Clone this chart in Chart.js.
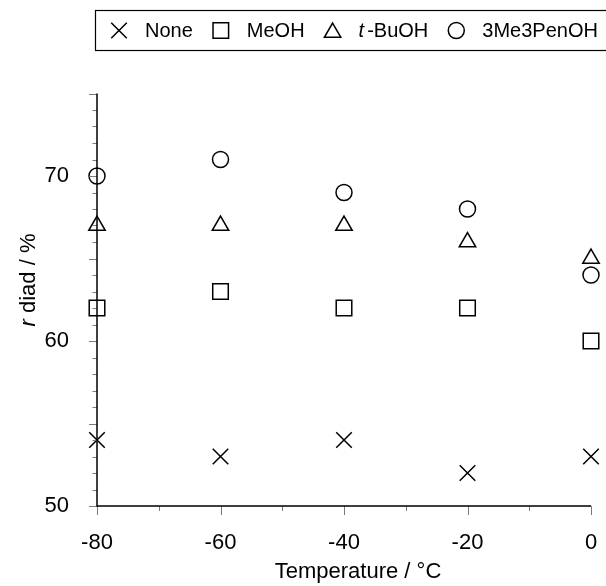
<!DOCTYPE html>
<html>
<head>
<meta charset="utf-8">
<script src="https://cdn.jsdelivr.net/npm/chart.js@4.4.1/dist/chart.umd.min.js"></script>
<style>
  html, body { margin: 0; padding: 0; background: #fff; }
  #wrap { width: 606px; height: 586px; }
</style>
</head>
<body>
<div id="wrap"><canvas id="chart" width="606" height="586"></canvas></div>
<script>
/*************************************************
 * Data
 *************************************************/
const temps = [-80, -60, -40, -20, 0];
const noneVals = [54, 53, 54, 52, 53];
const meohVals = [62, 63, 62, 62, 60];
const tbuohVals = [67, 67, 67, 66, 65];
const penVals = [70, 71, 69, 68, 64];

const seriesLabels = ["None", "MeOH", "t-BuOH", "3Me3PenOH"];
const seriesStyles = ["crossRot", "rect", "triangle", "circle"];
const seriesRadius = [11, 11, 9.5, 8];

const xMin = -80, xMax = 0, xStep = 20;
const yMin = 50, yMax = 75, yStep = 10;

const FONT = '"Liberation Sans", Arial, Helvetica, sans-serif';

function toPoints(vals) {
  return temps.map((t, i) => ({ x: t, y: vals[i] }));
}

const allVals = [noneVals, meohVals, tbuohVals, penVals];
const datasets = allVals.map((vals, i) => ({
  label: seriesLabels[i],
  data: toPoints(vals),
  pointStyle: seriesStyles[i],
  pointRadius: seriesRadius[i],
  pointHoverRadius: seriesRadius[i],
  pointBorderColor: "#000",
  pointBackgroundColor: "rgba(0,0,0,0)",
  pointBorderWidth: 1.5,
  showLine: false,
  clip: false
}));

/*************************************************
 * Axis ticks (major / minor), drawn by hand
 *************************************************/
const axisTicks = {
  id: "axisTicks",
  afterDraw(chart) {
    const ctx = chart.ctx;
    const xs = chart.scales.x, ys = chart.scales.y;
    const { left, bottom } = chart.chartArea;
    ctx.save();
    ctx.strokeStyle = "#7a7a7a";
    ctx.lineWidth = 1;
    ctx.beginPath();
    for (let v = yMin; v <= yMax; v += 1) {
      const py = Math.round(ys.getPixelForValue(v)) + 0.5;
      const len = v % 5 === 0 ? 8 : 4.5;
      ctx.moveTo(left - len, py);
      ctx.lineTo(left, py);
    }
    for (let v = xMin; v <= xMax; v += 10) {
      const px = Math.round(xs.getPixelForValue(v)) + 0.5;
      const len = v % 20 === 0 ? 9 : 5;
      ctx.moveTo(px, bottom);
      ctx.lineTo(px, bottom + len);
    }
    ctx.stroke();

    // axis lines
    ctx.strokeStyle = "#000";
    ctx.lineWidth = 1.5;
    ctx.beginPath();
    ctx.moveTo(left, chart.chartArea.top);
    ctx.lineTo(left, bottom);
    ctx.lineTo(chart.chartArea.right, bottom);
    ctx.stroke();

    // axis titles
    ctx.fillStyle = "#000";
    ctx.textBaseline = "alphabetic";
    ctx.font = "22px " + FONT;
    ctx.textAlign = "center";
    ctx.fillText("Temperature / \u00B0C", 358, 578);

    ctx.save();
    ctx.translate(35, 280);
    ctx.rotate(-Math.PI / 2);
    ctx.font = "italic 22px " + FONT;
    const rW = ctx.measureText("r").width;
    ctx.font = "22px " + FONT;
    const restW = ctx.measureText(" diad / %").width;
    const start = -(rW + restW) / 2;
    ctx.textAlign = "left";
    ctx.font = "italic 22px " + FONT;
    ctx.fillText("r", start, 0);
    ctx.font = "22px " + FONT;
    ctx.fillText(" diad / %", start + rW, 0);
    ctx.restore();
    ctx.restore();
  }
};

/*************************************************
 * Boxed legend on top
 *************************************************/
const boxLegend = {
  id: "boxLegend",
  afterDraw(chart) {
    const ctx = chart.ctx;
    ctx.save();
    ctx.strokeStyle = "#000";
    ctx.lineWidth = 1.2;
    ctx.strokeRect(95.5, 10.5, 540, 40);

    const cy = 30.5;
    let x = 119;
    chart.data.datasets.forEach((ds, i) => {
      ctx.strokeStyle = "#000";
      ctx.fillStyle = "rgba(0,0,0,0)";
      ctx.lineWidth = 1.5;
      const my = ds.pointStyle === "triangle" ? cy + 2 : cy;
      Chart.helpers.drawPoint(ctx, {
        pointStyle: ds.pointStyle,
        radius: ds.pointRadius,
        borderWidth: 1.5,
        rotation: 0
      }, x, my);

      ctx.fillStyle = "#000";
      ctx.textBaseline = "alphabetic";
      ctx.textAlign = "left";
      let tx = x + 26;
      const label = ds.label;
      ctx.font = "20px " + FONT;
      if (label.startsWith("t-")) {
        ctx.font = "italic 20px " + FONT;
        ctx.fillText("t", tx, 37);
        tx += ctx.measureText("t").width + 3;
        ctx.font = "20px " + FONT;
        ctx.fillText(label.slice(1), tx, 37);
        tx += ctx.measureText(label.slice(1)).width;
      } else {
        ctx.fillText(label, tx, 37);
        tx += ctx.measureText(label).width;
      }
      x = tx + 28;
    });
    ctx.restore();
  }
};

/*************************************************
 * Chart
 *************************************************/
new Chart(document.getElementById("chart"), {
  type: "scatter",
  data: { datasets: datasets },
  options: {
    responsive: false,
    animation: false,
    events: [],
    layout: { padding: { top: 93.5, right: 15, left: 0, bottom: 0 } },
    plugins: {
      legend: { display: false },
      tooltip: { enabled: false }
    },
    scales: {
      x: {
        type: "linear",
        min: xMin,
        max: xMax,
        grid: { display: false },
        border: { display: false },
        ticks: {
          stepSize: xStep,
          includeBounds: false,
          color: "#000",
          font: { family: FONT, size: 22 },
          padding: 16,
          maxRotation: 0
        },
        afterFit(scale) {
          scale.height = 80;
          scale.paddingLeft = 0;
          scale.paddingRight = 0;
        }
      },
      y: {
        type: "linear",
        min: yMin,
        max: yMax,
        grid: { display: false },
        border: { display: false },
        ticks: {
          stepSize: yStep,
          includeBounds: false,
          color: "#000",
          font: { family: FONT, size: 22 },
          padding: 20
        },
        afterFit(scale) {
          scale.width = 97;
          scale.paddingTop = 0;
          scale.paddingBottom = 0;
        }
      }
    }
  },
  plugins: [axisTicks, boxLegend]
});
</script>
</body>
</html>
